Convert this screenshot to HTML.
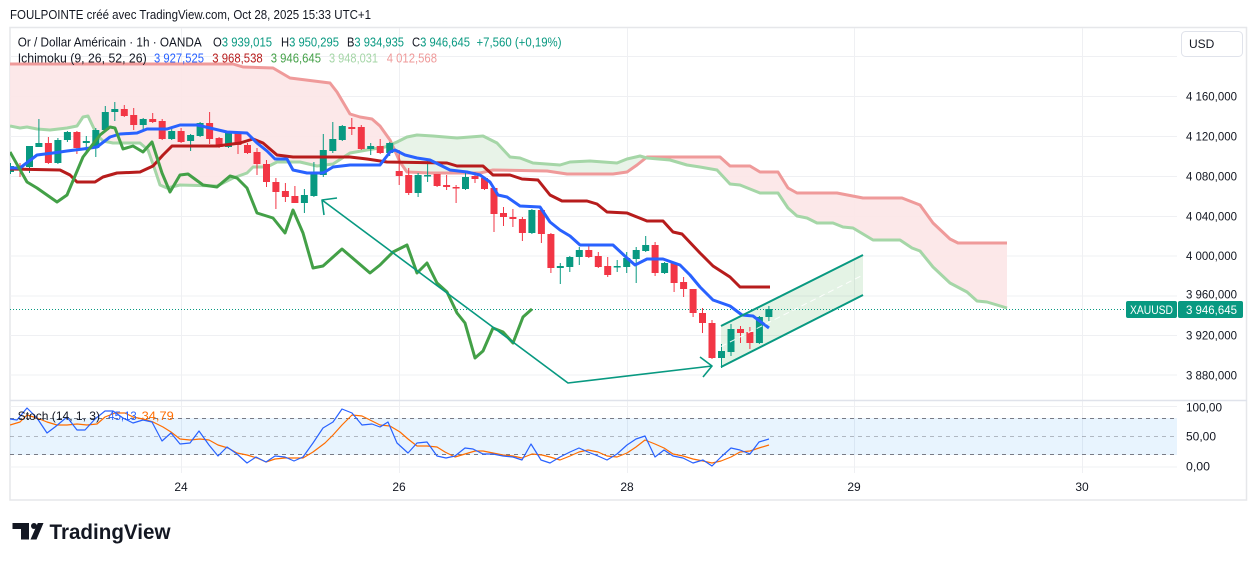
<!DOCTYPE html>
<html><head><meta charset="utf-8"><style>
html,body{margin:0;padding:0;background:#fff;width:1257px;height:561px;overflow:hidden}
svg{display:block}
text{font-family:"Liberation Sans",Arial,sans-serif}
</style></head><body>
<svg width="1257" height="561" viewBox="0 0 1257 561" xmlns="http://www.w3.org/2000/svg">
<defs>
<clipPath id="main"><rect x="10" y="27" width="1167" height="373"/></clipPath>
<clipPath id="stoch"><rect x="10" y="401" width="1167" height="72"/></clipPath>
<clipPath id="pinkc"><rect x="10" y="27" width="382.5" height="373"/><rect x="646" y="27" width="531" height="373"/></clipPath>
<clipPath id="greenc"><rect x="392.5" y="27" width="253.5" height="373"/></clipPath>
</defs>

<!-- title -->
<text x="10" y="19" font-size="12.5" fill="#131722" textLength="361" lengthAdjust="spacingAndGlyphs">FOULPOINTE créé avec TradingView.com, Oct 28, 2025 15:33 UTC+1</text>

<!-- frame -->
<rect x="10" y="27.5" width="1236.5" height="472.5" fill="none" stroke="#E6E7EA" stroke-width="1.5"/>

<!-- grid -->
<g stroke="#EFF0F3" stroke-width="1">
<path d="M10 56.5H1177M10 96.5H1177M10 136.5H1177M10 176.5H1177M10 216.5H1177M10 256H1177M10 296H1177M10 335.5H1177M10 375H1177"/>
<path d="M181.5 28V473M399.5 28V473M627.5 28V473M854.5 28V473M1082.5 28V473"/>
<path d="M10 406.5H1177M10 467H1177"/>
</g>
<!-- pane separator -->
<path d="M10 400.5H1247" stroke="#E0E3EB" stroke-width="1.5"/>

<g clip-path="url(#main)">
<!-- cloud fills -->
<path clip-path="url(#pinkc)" fill="#FCE6E7" fill-opacity="0.9" fill-rule="evenodd" d="M10 64L233 64L243 67L273 68L290 78L330 83L337 92L350 114L360 117L372 119L380 126L390 140L400 162L407 172L430 173L480 173L493 170L547 171L567 174L613 174L627 172L637 165L647 157L720 157L730 166L750 166L760 172L778 172L788 188L797 193L837 193L863 198L902 198L920 205L933 223L950 239L958 243L1007 243L1007 308L987 302L977 301L967 292L950 283L933 267L920 251L912 248L900 240L873 240L853 228L843 227L833 223L817 223L807 218L797 216L788 208L778 193L760 193L740 185L730 184L717 170L700 167L687 165L670 160L647 158L640 156L627 159L617 163L590 161L570 162L560 165L533 163L520 158L510 157L497 143L483 136L457 138L433 136L417 135L407 137L397 142L385 147L367 150L350 153L333 164L317 166L300 162L277 162L267 167L253 167L247 173L233 178L217 186L180 185L167 188L160 185L155 170L148 150L140 143L113 143L103 141L97 135L88 116L83 117L77 126L67 128L50 130L37 129L27 127L20 128L10 126Z"/>
<path clip-path="url(#greenc)" fill="#E8F3E8" fill-rule="evenodd" d="M10 64L233 64L243 67L273 68L290 78L330 83L337 92L350 114L360 117L372 119L380 126L390 140L400 162L407 172L430 173L480 173L493 170L547 171L567 174L613 174L627 172L637 165L647 157L720 157L730 166L750 166L760 172L778 172L788 188L797 193L837 193L863 198L902 198L920 205L933 223L950 239L958 243L1007 243L1007 308L987 302L977 301L967 292L950 283L933 267L920 251L912 248L900 240L873 240L853 228L843 227L833 223L817 223L807 218L797 216L788 208L778 193L760 193L740 185L730 184L717 170L700 167L687 165L670 160L647 158L640 156L627 159L617 163L590 161L570 162L560 165L533 163L520 158L510 157L497 143L483 136L457 138L433 136L417 135L407 137L397 142L385 147L367 150L350 153L333 164L317 166L300 162L277 162L267 167L253 167L247 173L233 178L217 186L180 185L167 188L160 185L155 170L148 150L140 143L113 143L103 141L97 135L88 116L83 117L77 126L67 128L50 130L37 129L27 127L20 128L10 126Z"/>

<!-- senkou lines -->
<polyline fill="none" stroke="#EF9A9A" stroke-width="3" stroke-linejoin="round" points="10,64 233,64 243,67 273,68 290,78 330,83 337,92 350,114 360,117 372,119 380,126 390,140 400,162 407,172 430,173 480,173 493,170 547,171 567,174 613,174 627,172 637,165 647,157 720,157 730,166 750,166 760,172 778,172 788,188 797,193 837,193 863,198 902,198 920,205 933,223 950,239 958,243 1007,243"/>
<polyline fill="none" stroke="#A5D6A7" stroke-width="3" stroke-linejoin="round" points="10,126 20,128 27,127 37,129 50,130 67,128 77,126 83,117 88,116 97,135 103,141 113,143 140,143 148,150 155,170 160,185 167,188 180,185 217,186 233,178 247,173 253,167 267,167 277,162 300,162 317,166 333,164 350,153 367,150 385,147 397,142 407,137 417,135 433,136 457,138 483,136 497,143 510,157 520,158 533,163 560,165 570,162 590,161 617,163 627,159 640,156 647,158 670,160 687,165 700,167 717,170 730,184 740,185 760,193 778,193 788,208 797,216 807,218 817,223 833,223 843,227 853,228 873,240 900,240 912,248 920,251 933,267 950,283 967,292 977,301 987,302 1007,308"/>

<!-- channel fill -->
<path d="M721 326L863 255L863 295L721 367Z" fill="#4CAF50" fill-opacity="0.15"/>

<!-- price line -->
<path d="M10 309.5H1126" stroke="#089981" stroke-width="1" stroke-dasharray="1 2"/>

<!-- candles green -->
<path stroke="#089981" stroke-width="1" fill="none" d="M10.5 163V174M29.5 146V173M38.9 119V147M57.9 138V164M67.4 131V142M86.3 136V153M95.8 128V157M105.3 106V132M114.8 102V121M143.2 118V131M171.7 128V140M190.6 134V151M200.1 122V137M228.5 132V148M304.4 189V213M313.9 162V197M323.3 134V177M332.8 122V153M342.3 125V141M370.7 143V155M389.7 142V156M418.1 173V197M427.6 159V182M465.5 172V190M531.9 209V234M560.3 263V284M569.8 256V272M579.3 247V265M617.2 260V272M626.7 252V273M636.2 247V283M645.7 236V252M664.6 262V274M721.5 344V368M731 324V356M759.4 316V344M768.9 306V321"/>
<path fill="#089981" d="M7 166h7v6h-7zM26 146h7v21h-7zM35.4 143h7v4h-7zM54.4 140h7v23h-7zM63.9 132h7v8h-7zM82.8 141h7v2h-7zM92.3 130h7v18h-7zM101.8 112h7v18h-7zM111.3 109h7v3h-7zM139.7 119h7v6h-7zM168.2 131h7v8h-7zM187.1 135h7v6h-7zM196.6 123h7v13h-7zM225 133h7v14h-7zM300.9 195h7v8h-7zM310.4 174h7v22h-7zM319.8 150h7v25h-7zM329.3 139h7v12h-7zM338.8 126h7v14h-7zM367.2 146h7v3h-7zM386.2 143h7v10h-7zM414.6 175h7v18h-7zM424.1 175h7v1.5h-7zM462 177h7v12h-7zM528.4 210h7v23h-7zM556.8 266h7v2h-7zM566.3 257h7v10h-7zM575.8 250h7v7h-7zM613.7 266h7v1.5h-7zM623.2 258h7v9h-7zM632.7 250h7v9h-7zM642.2 245h7v6h-7zM661.1 263h7v10h-7zM718 351h7v7h-7zM727.5 329h7v23h-7zM755.9 317h7v26h-7zM765.4 309h7v8h-7z"/>
<!-- candles red -->
<path stroke="#F23645" stroke-width="1" fill="none" d="M20 163V177M48.4 137V164M76.9 131V154M124.3 105V117M133.7 108V130M152.7 113V123M162.2 119V140M181.1 128V143M209.6 112V144M219.1 137V148M238 133V154M247.5 143V154M257 148V175M266.5 160V187M275.9 178V209M285.4 183V202M294.9 186V203M351.8 118V135M361.3 125V150M380.2 139V154M399.2 150V185M408.7 168V195M437.1 174V187M446.6 175V190M456.1 185V203M475 172V183M484.5 177V190M494 188V232M503.5 207V226M512.9 209V227M522.4 217V241M541.4 207V243M550.9 233V273M588.8 246V258M598.3 252V268M607.7 257V277M655.1 242V276M674.1 262V292M683.6 277V297M693.1 289V317M702.5 308V333M712 320V359M740.5 326V343M749.9 327V349"/>
<path fill="#F23645" d="M16.5 166h7v2h-7zM44.9 143h7v20h-7zM73.4 132h7v16h-7zM120.8 109h7v7h-7zM130.2 115h7v10h-7zM149.2 119h7v3h-7zM158.7 121h7v18h-7zM177.6 131h7v11h-7zM206.1 123h7v16h-7zM215.6 138h7v9h-7zM234.5 133h7v12h-7zM244 145h7v8h-7zM253.5 152h7v12h-7zM263 164h7v18h-7zM272.4 182h7v10h-7zM281.9 191h7v6h-7zM291.4 196h7v7h-7zM348.3 127h7v2h-7zM357.8 127h7v22h-7zM376.7 146h7v7h-7zM395.7 171h7v5h-7zM405.2 175h7v18h-7zM433.6 174h7v12h-7zM443.1 185h7v2h-7zM452.6 187h7v1.5h-7zM471.5 176h7v3h-7zM481 178h7v11h-7zM490.5 188h7v26h-7zM500 213h7v4h-7zM509.4 217h7v2h-7zM518.9 219h7v14h-7zM537.9 210h7v24h-7zM547.4 234h7v34h-7zM585.3 250h7v7h-7zM594.8 256h7v11h-7zM604.2 266h7v9h-7zM651.6 245h7v28h-7zM670.6 263h7v20h-7zM680.1 282h7v7h-7zM689.6 289h7v24h-7zM699 313h7v10h-7zM708.5 323h7v35h-7zM737 329h7v4h-7zM746.4 332h7v11h-7z"/>

<!-- kijun -->
<polyline fill="none" stroke="#B71C1C" stroke-width="3" stroke-linejoin="round" points="10,169 60,170 70,175 77,182 95,182 103,177 117,173 140,172 153,166 163,155 172,146 217,146 240,143 253,139 263,143 277,155 293,157 350,157 367,159 387,162 447,163 457,166 483,166 493,175 510,175 522,179 538,180 550,195 562,201 587,201 597,204 607,212 627,213 637,217 647,221 663,221 673,232 682,234 700,253 713,266 730,277 740,287 770,287"/>
<!-- tenkan -->
<polyline fill="none" stroke="#2962FF" stroke-width="3" stroke-linejoin="round" points="10,168 20,168 37,155 53,153 67,151 83,149 97,147 110,137 120,134 137,133 147,129 167,129 180,125 197,125 210,128 227,132 247,133 257,143 267,151 275,159 287,159 293,170 307,173 323,173 333,167 350,165 380,165 390,152 395,150 405,155 417,158 430,160 442,166 450,170 467,172 480,175 490,182 498,195 507,197 520,206 540,207 550,222 560,230 570,236 580,245 613,245 627,258 635,265 647,259 663,259 680,265 690,275 700,287 713,300 730,306 742,315 753,316 769,328"/>
<!-- chikou -->
<polyline fill="none" stroke="#43A047" stroke-width="3" stroke-linejoin="round" points="10,152 27,182 37,188 57,202 67,195 83,157 100,135 110,127 115,128 123,149 133,146 143,152 152,142 162,173 170,192 180,175 188,174 203,185 217,187 230,176 237,178 247,188 257,213 273,218 285,233 293,210 303,233 313,268 323,266 342,249 370,273 380,265 393,252 407,245 417,273 427,263 437,283 447,292 457,313 465,323 475,358 483,351 493,328 503,332 513,343 523,317 532,309"/>

<!-- annotations -->
<path d="M322 200L568 383L712 366M337 198L322 200L324 215M700 357L712 366L703 377" fill="none" stroke="#089981" stroke-width="1.6" stroke-linejoin="round"/>
<path d="M721 326L863 255M721 367L863 295" stroke="#089981" stroke-width="2" fill="none"/>
<path d="M721 346.5L863 275" stroke="#ffffff" stroke-width="1" stroke-dasharray="6 4" fill="none" opacity="0.9"/>
</g>

<!-- legend -->
<g font-size="12.5" fill="#131722">
<text x="17.7" y="46.5" textLength="184" lengthAdjust="spacingAndGlyphs">Or / Dollar Américain · 1h · OANDA</text>
<text x="213" y="46.5" textLength="59" lengthAdjust="spacingAndGlyphs">O<tspan fill="#089981">3 939,015</tspan></text>
<text x="281" y="46.5" textLength="58" lengthAdjust="spacingAndGlyphs">H<tspan fill="#089981">3 950,295</tspan></text>
<text x="347" y="46.5" textLength="57" lengthAdjust="spacingAndGlyphs">B<tspan fill="#089981">3 934,935</tspan></text>
<text x="412" y="46.5" textLength="58" lengthAdjust="spacingAndGlyphs">C<tspan fill="#089981">3 946,645</tspan></text>
<text x="476.5" y="46.5" fill="#089981" textLength="85" lengthAdjust="spacingAndGlyphs">+7,560 (+0,19%)</text>
<text x="17.7" y="62.5" textLength="129" lengthAdjust="spacingAndGlyphs">Ichimoku (9, 26, 52, 26)</text>
<text x="154" y="62.5" fill="#2962FF" textLength="50" lengthAdjust="spacingAndGlyphs">3 927,525</text>
<text x="212.3" y="62.5" fill="#B71C1C" textLength="50.4" lengthAdjust="spacingAndGlyphs">3 968,538</text>
<text x="270.7" y="62.5" fill="#43A047" textLength="50.3" lengthAdjust="spacingAndGlyphs">3 946,645</text>
<text x="329" y="62.5" fill="#A5D6A7" textLength="49" lengthAdjust="spacingAndGlyphs">3 948,031</text>
<text x="386.7" y="62.5" fill="#EF9A9A" textLength="50.3" lengthAdjust="spacingAndGlyphs">4 012,568</text>
</g>

<!-- USD box -->
<rect x="1181.5" y="31.5" width="61" height="25" rx="4" fill="#fff" stroke="#E0E3EB"/>
<text x="1189" y="48" font-size="12" fill="#131722">USD</text>

<!-- price axis labels -->
<g font-size="12" fill="#131722">
<text x="1186" y="100.3" textLength="51" lengthAdjust="spacingAndGlyphs">4 160,000</text>
<text x="1186" y="140.3" textLength="51" lengthAdjust="spacingAndGlyphs">4 120,000</text>
<text x="1186" y="180.3" textLength="51" lengthAdjust="spacingAndGlyphs">4 080,000</text>
<text x="1186" y="220.3" textLength="51" lengthAdjust="spacingAndGlyphs">4 040,000</text>
<text x="1186" y="259.8" textLength="51" lengthAdjust="spacingAndGlyphs">4 000,000</text>
<text x="1186" y="298.3" textLength="51" lengthAdjust="spacingAndGlyphs">3 960,000</text>
<text x="1186" y="339.3" textLength="51" lengthAdjust="spacingAndGlyphs">3 920,000</text>
<text x="1186" y="379.3" textLength="51" lengthAdjust="spacingAndGlyphs">3 880,000</text>
<text x="1186" y="411.3" textLength="36" lengthAdjust="spacingAndGlyphs">100,00</text>
<text x="1186" y="440.3" textLength="30" lengthAdjust="spacingAndGlyphs">50,00</text>
<text x="1186" y="470.3" textLength="24" lengthAdjust="spacingAndGlyphs">0,00</text>
</g>

<!-- XAUUSD label -->
<rect x="1126" y="301" width="51" height="17" rx="2" fill="#089981"/>
<rect x="1178" y="301" width="65" height="17" rx="2" fill="#089981"/>
<text x="1130" y="314" font-size="12" fill="#fff" textLength="43" lengthAdjust="spacingAndGlyphs">XAUUSD</text>
<text x="1186" y="314" font-size="12" fill="#fff" textLength="51" lengthAdjust="spacingAndGlyphs">3 946,645</text>

<!-- stoch pane -->
<rect x="10" y="418" width="1167" height="37" fill="#2196F3" fill-opacity="0.1"/>
<path d="M10 418.5H1177M10 454.5H1177" stroke="#787B86" stroke-width="1" stroke-dasharray="4 4"/>
<path d="M10 436.5H1177" stroke="#787B86" stroke-opacity="0.5" stroke-width="1" stroke-dasharray="4 4"/>
<g clip-path="url(#stoch)">
<polyline fill="none" stroke="#FF6D00" stroke-width="1.2" stroke-linejoin="round" points="10,425 20,422 27,415 37,418 47,422 57,425 67,425 77,424 87,425 97,424 105,417 115,413 125,413 133,417 143,419 153,422 163,427 171,432 180,439 190,440 200,439 209,440 218,445 228,448 237,453 247,455 257,458 266,462 275,459 285,458 294,458 303,458 313,452 325,443 333,435 342,425 352,415 362,416 372,421 380,425 390,426 400,432 408,439 417,446 427,446 437,447 445,452 455,457 465,454 475,451 483,451 493,453 503,455 513,456 522,458 532,454 542,455 550,457 560,460 570,456 579,452 588,450 598,452 607,456 617,457 627,453 636,447 645,440 655,444 664,448 673,454 683,456 693,459 703,461 712,463 721,461 731,457 740,452 750,451 759,448 769,445"/>
<polyline fill="none" stroke="#2962FF" stroke-width="1.2" stroke-linejoin="round" points="10,419 17,420 27,408 37,418 47,433 55,427 67,417 77,430 85,430 95,419 105,411 113,411 123,418 133,423 143,420 152,422 162,441 171,433 180,444 190,443 199,431 209,445 218,456 227,447 237,454 247,463 256,457 266,462 275,456 285,457 294,461 303,457 313,443 323,428 333,422 342,409 352,413 362,425 372,424 380,427 388,422 397,443 408,453 417,443 427,442 437,456 446,458 455,456 465,448 473,449 483,454 493,454 503,456 513,457 522,460 531,444 541,460 550,463 560,457 570,452 579,448 588,452 598,456 607,460 617,454 627,445 636,439 645,436 655,457 664,450 673,456 683,458 693,463 703,460 712,466 721,457 731,448 740,450 750,454 759,442 769,439"/>
</g>
<g font-size="12">
<text x="17.7" y="420" fill="#131722" textLength="82.3" lengthAdjust="spacingAndGlyphs">Stoch (14, 1, 3)</text>
<text x="108.3" y="420" fill="#2962FF" textLength="28.4" lengthAdjust="spacingAndGlyphs">45,13</text>
<text x="141.7" y="420" fill="#FF6D00" textLength="32" lengthAdjust="spacingAndGlyphs">34,79</text>
</g>

<!-- time axis -->
<g font-size="12" fill="#131722" text-anchor="middle">
<text x="181" y="491">24</text>
<text x="399" y="491">26</text>
<text x="627" y="491">28</text>
<text x="854" y="491">29</text>
<text x="1082" y="491">30</text>
</g>

<!-- logo -->
<g fill="#131722">
<path d="M12.5 523H29V539.5H21V529H12.5Z"/>
<circle cx="34" cy="526" r="3"/>
<path d="M37.8 523H43.5L36.5 539.5H30.5Z"/>
<text x="49.5" y="539" font-size="21" font-weight="bold" textLength="121" lengthAdjust="spacingAndGlyphs">TradingView</text>
</g>
</svg>
</body></html>
